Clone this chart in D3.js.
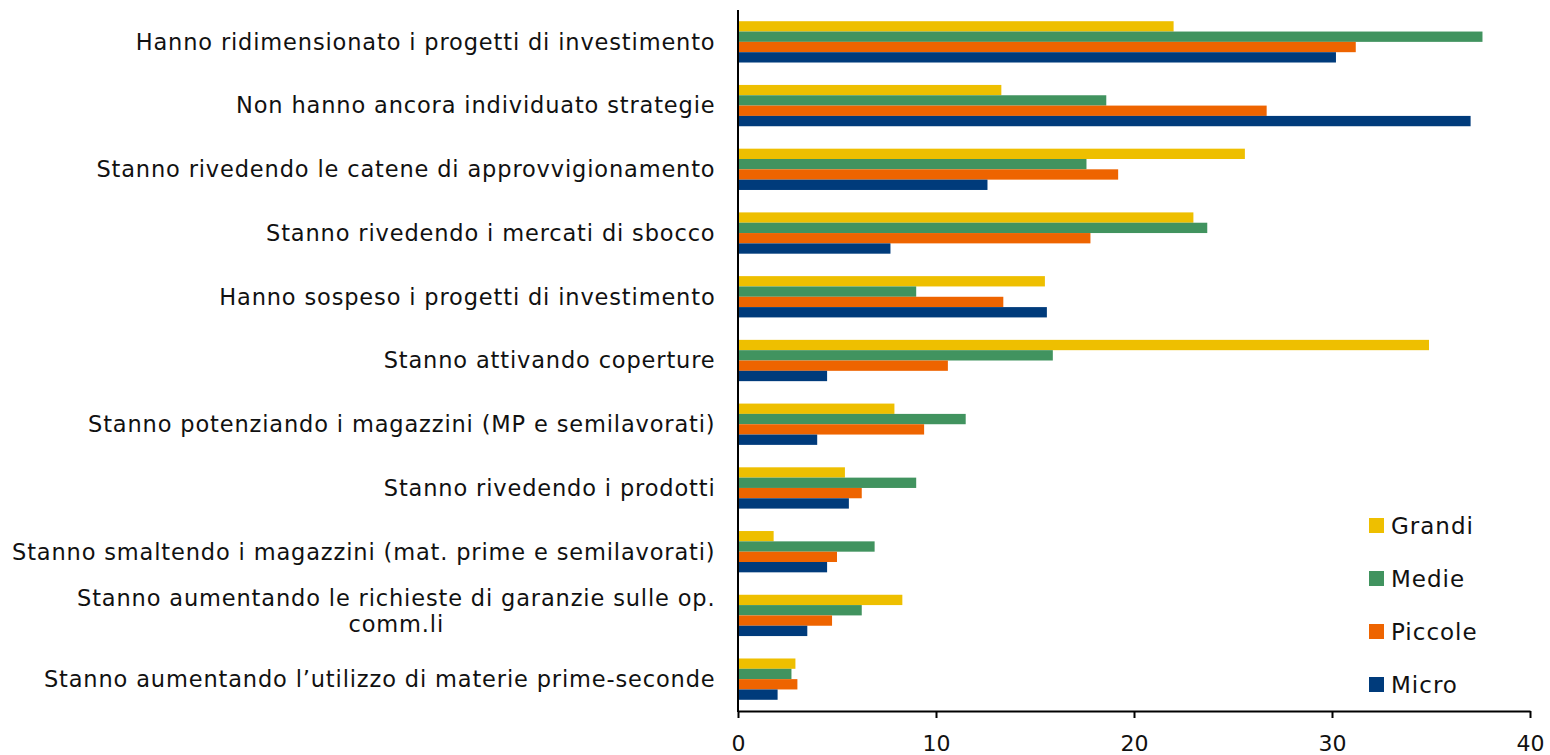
<!DOCTYPE html>
<html>
<head>
<meta charset="utf-8">
<script src="https://cdn.jsdelivr.net/npm/d3@7"></script>
<style>
  body { margin: 0; background: #fff; }
  text { font-family: "DejaVu Sans", "Noto Sans", sans-serif; fill: #111; }
</style>
</head>
<body>
<svg id="chart" width="1550" height="755"></svg>
<script>
// categories, top to bottom
const categories = [
  "Hanno ridimensionato i progetti di investimento",
  "Non hanno ancora individuato strategie",
  "Stanno rivedendo le catene di approvvigionamento",
  "Stanno rivedendo i mercati di sbocco",
  "Hanno sospeso i progetti di investimento",
  "Stanno attivando coperture",
  "Stanno potenziando i magazzini (MP e semilavorati)",
  "Stanno rivedendo i prodotti",
  "Stanno smaltendo i magazzini (mat. prime e semilavorati)",
  "Stanno aumentando le richieste di garanzie sulle op.\ncomm.li",
  "Stanno aumentando l\u2019utilizzo di materie prime-seconde"
];
// series, in drawing order within each group
const seriesNames = ["Grandi", "Medie", "Piccole", "Micro"];
const grandi  = [22.0, 13.3, 25.6, 23.0, 15.5, 34.9, 7.9, 5.4, 1.8, 8.3, 2.9];
const medie   = [37.6, 18.6, 17.6, 23.7, 9.0, 15.9, 11.5, 9.0, 6.9, 6.25, 2.7];
const piccole = [31.2, 26.7, 19.2, 17.8, 13.4, 10.6, 9.4, 6.25, 5.0, 4.75, 3.0];
const micro   = [30.2, 37.0, 12.6, 7.7, 15.6, 4.5, 4.0, 5.6, 4.5, 3.5, 2.0];
const xTicks = [0, 10, 20, 30, 40];

const seriesValues = [grandi, medie, piccole, micro];
const colors = ["#EEBF00", "#41935F", "#EE6400", "#003B7B"];

const svg = d3.select("#chart");
const plotLeft = 738, plotRight = 1530, plotTop = 10, plotBottom = 711;

const x = d3.scaleLinear().domain([0, 40]).range([plotLeft, plotRight]);
const y0 = d3.scaleBand().domain(d3.range(categories.length))
  .range([plotTop, plotBottom]).paddingInner(0.352).paddingOuter(0.176);
const y1 = d3.scaleBand().domain(d3.range(seriesNames.length))
  .range([0, y0.bandwidth()]);

// bars
const groups = svg.append("g").selectAll("g")
  .data(categories).enter().append("g")
  .attr("transform", (d, i) => `translate(0,${y0(i)})`);

groups.selectAll("rect")
  .data((d, i) => seriesValues.map((s, k) => ({k: k, v: s[i]})))
  .enter().append("rect")
  .attr("x", x(0))
  .attr("y", d => y1(d.k))
  .attr("width", d => x(d.v) - x(0))
  .attr("height", y1.bandwidth())
  .attr("fill", d => colors[d.k]);

// category labels (right aligned, wrapped lines centred on the first)
const labelX = 715.5;
groups.each(function(d, i) {
  const g = d3.select(this);
  const lines = d.split("\n");
  const cy = y0.bandwidth() / 2;
  const lh = 26;
  const t = g.append("text").attr("font-size", 22.5).attr("letter-spacing", 0.85)
    .attr("text-anchor", "end").attr("x", labelX);
  lines.forEach((ln, j) => {
    t.append("tspan").attr("x", labelX).attr("dy", "0.35em")
      .attr("y", cy - 4 * (lines.length - 1) + (j - (lines.length - 1) / 2) * lh).text(ln);
  });
  if (lines.length > 1) {
    const w = t.select("tspan").node().getComputedTextLength();
    t.attr("text-anchor", "middle");
    t.selectAll("tspan").attr("x", labelX - w / 2);
  }
});

// axes
const xAxis = svg.append("g").attr("transform", `translate(0,${plotBottom})`)
  .call(d3.axisBottom(x).tickValues(xTicks).tickSize(7).tickSizeOuter(0).tickPadding(17));
xAxis.select(".domain").attr("stroke", "#000").attr("stroke-width", 2);
xAxis.selectAll(".tick line").attr("stroke", "#000").attr("stroke-width", 2);
xAxis.selectAll(".tick text").attr("font-size", 22).attr("font-family", "'DejaVu Sans', sans-serif")
  .attr("fill", "#111");

svg.append("line").attr("x1", plotLeft).attr("x2", plotLeft)
  .attr("y1", plotTop).attr("y2", plotBottom + 1)
  .attr("stroke", "#000").attr("stroke-width", 2);

// legend
const legend = svg.append("g").attr("transform", "translate(1369,518)");
const li = legend.selectAll("g").data(seriesNames).enter().append("g")
  .attr("transform", (d, i) => `translate(0,${i * 53})`);
li.append("rect").attr("width", 15).attr("height", 15).attr("fill", (d, i) => colors[i]);
li.append("text").attr("x", 22).attr("y", 8).attr("dy", "0.35em")
  .attr("font-size", 23).attr("letter-spacing", 1).text(d => d);
</script>
</body>
</html>
